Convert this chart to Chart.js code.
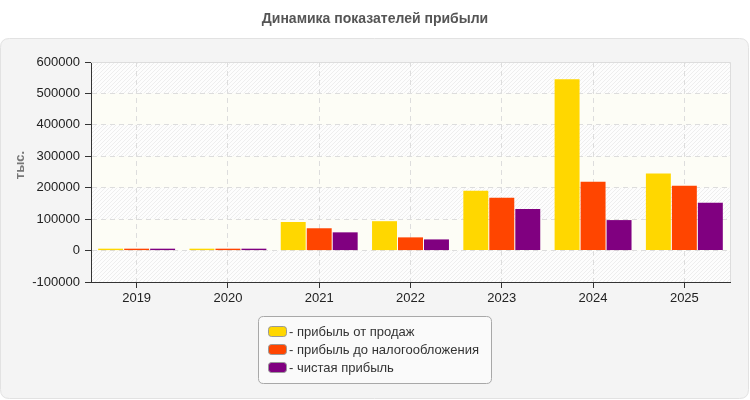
<!DOCTYPE html>
<html>
<head>
<meta charset="utf-8">
<script src="https://cdn.jsdelivr.net/npm/chart.js@4"></script>
<style>
html,body{margin:0;padding:0;background:#fff;}
canvas{display:block;}
</style>
</head>
<body>
<canvas id="c" width="750" height="400"></canvas>
<script>
const chartTitle = 'Динамика показателей прибыли';
const yAxisTitle = 'тыс.';
const categories = ['2019', '2020', '2021', '2022', '2023', '2024', '2025'];
const seriesNames = ['прибыль от продаж', 'прибыль до налогообложения', 'чистая прибыль'];
const salesProfit = [6000, 6000, 91000, 93500, 190000, 545000, 245000];
const preTaxProfit = [6000, 6000, 71000, 42000, 168000, 219000, 206000];
const netProfit = [6000, 6000, 58000, 35500, 132000, 97000, 152000];
const seriesColors = ['#FFD700', '#FF4500', '#800080'];
const yMin = -100000, yMax = 600000, yStep = 100000;

const FONT = 'Arial, "Liberation Sans", sans-serif';

function rr(ctx, x, y, w, h, r) {
  ctx.beginPath();
  ctx.moveTo(x + r, y);
  ctx.lineTo(x + w - r, y);
  ctx.quadraticCurveTo(x + w, y, x + w, y + r);
  ctx.lineTo(x + w, y + h - r);
  ctx.quadraticCurveTo(x + w, y + h, x + w - r, y + h);
  ctx.lineTo(x + r, y + h);
  ctx.quadraticCurveTo(x, y + h, x, y + h - r);
  ctx.lineTo(x, y + r);
  ctx.quadraticCurveTo(x, y, x + r, y);
  ctx.closePath();
}

const decor = {
  id: 'decor',
  beforeDraw(chart) {
    const ctx = chart.ctx;
    const a = chart.chartArea;
    const ys = chart.scales.y;
    ctx.save();
    ctx.fillStyle = '#ffffff';
    ctx.fillRect(0, 0, chart.width, chart.height);
    rr(ctx, 0.5, 38.5, 748, 360, 9);
    ctx.fillStyle = '#f4f4f4';
    ctx.fill();
    ctx.strokeStyle = '#e2e2e2';
    ctx.lineWidth = 1;
    ctx.stroke();
    ctx.fillStyle = '#555555';
    ctx.font = 'bold 14px ' + FONT;
    ctx.textAlign = 'center';
    ctx.textBaseline = 'middle';
    ctx.fillText(chartTitle, 375, 19);
    ctx.save();
    ctx.translate(20, 165);
    ctx.rotate(-Math.PI / 2);
    ctx.fillStyle = '#777777';
    ctx.font = 'bold 13px ' + FONT;
    ctx.fillText(yAxisTitle, 0, 0);
    ctx.restore();
    ctx.fillStyle = '#fdfdfd';
    ctx.fillRect(a.left, a.top, a.right - a.left, a.bottom - a.top);
    ctx.save();
    ctx.beginPath();
    ctx.rect(a.left, a.top, a.right - a.left, a.bottom - a.top);
    ctx.clip();
    ctx.strokeStyle = '#eeeeee';
    ctx.lineWidth = 1;
    ctx.beginPath();
    const h = a.bottom - a.top;
    for (let x = a.left - h; x < a.right + 4; x += 4) {
      ctx.moveTo(x, a.bottom);
      ctx.lineTo(x + h, a.top);
    }
    ctx.stroke();
    ctx.fillStyle = '#fdfdf6';
    for (let v = 0; v < yMax; v += 2 * yStep) {
      const y1 = ys.getPixelForValue(v + yStep);
      const y2 = ys.getPixelForValue(v);
      ctx.fillRect(a.left, y1, a.right - a.left, y2 - y1);
    }
    ctx.restore();
    ctx.restore();
  },
  afterDraw(chart) {
    const ctx = chart.ctx;
    const a = chart.chartArea;
    ctx.save();
    ctx.strokeStyle = '#dddddd';
    ctx.lineWidth = 1;
    ctx.beginPath();
    ctx.moveTo(a.left, a.top + 0.5);
    ctx.lineTo(a.right + 0.5, a.top + 0.5);
    ctx.lineTo(a.right + 0.5, a.bottom);
    ctx.stroke();
    rr(ctx, 258.5, 316.5, 233, 67, 5);
    ctx.fillStyle = '#fafafa';
    ctx.fill();
    ctx.strokeStyle = '#a8a8a8';
    ctx.stroke();
    ctx.font = '13px ' + FONT;
    ctx.textAlign = 'left';
    ctx.textBaseline = 'middle';
    chart.data.datasets.forEach((ds, i) => {
      const cy = 332 + i * 18;
      rr(ctx, 268.5, cy - 5.5, 18, 10, 3);
      ctx.fillStyle = ds.backgroundColor;
      ctx.fill();
      ctx.strokeStyle = '#999999';
      ctx.stroke();
      ctx.fillStyle = '#333333';
      ctx.fillText('- ' + ds.label, 289, cy);
    });
    ctx.restore();
  }
};

const datasets = [salesProfit, preTaxProfit, netProfit].map((d, i) => ({
  label: seriesNames[i],
  data: d,
  backgroundColor: seriesColors[i],
  borderWidth: 0,
  categoryPercentage: 0.854,
  barPercentage: 0.96
}));

new Chart(document.getElementById('c'), {
  type: 'bar',
  data: { labels: categories, datasets },
  options: {
    responsive: false,
    maintainAspectRatio: false,
    animation: false,
    layout: { padding: { left: 0, top: 62, right: 20, bottom: 0 } },
    plugins: { legend: { display: false }, title: { display: false }, tooltip: { enabled: false } },
    scales: {
      x: {
        afterFit(s) { s.height = 118; },
        grid: { display: true, offset: false, color: '#dddddd', tickColor: '#333333', tickLength: 6, drawOnChartArea: true },
        border: { display: true, color: '#333333', width: 1, dash: [5, 4] },
        ticks: { color: '#222222', font: { family: FONT, size: 13 }, padding: 3, maxRotation: 0 }
      },
      y: {
        min: yMin, max: yMax,
        afterFit(s) { s.width = 91; },
        grid: { color: '#dddddd', tickColor: '#333333', tickLength: 6 },
        border: { display: true, color: '#333333', width: 1, dash: [5, 4] },
        ticks: { stepSize: yStep, color: '#222222', font: { family: FONT, size: 13 }, padding: 5,
                 callback: (v) => String(v) }
      }
    }
  },
  plugins: [decor]
});
</script>
</body>
</html>
